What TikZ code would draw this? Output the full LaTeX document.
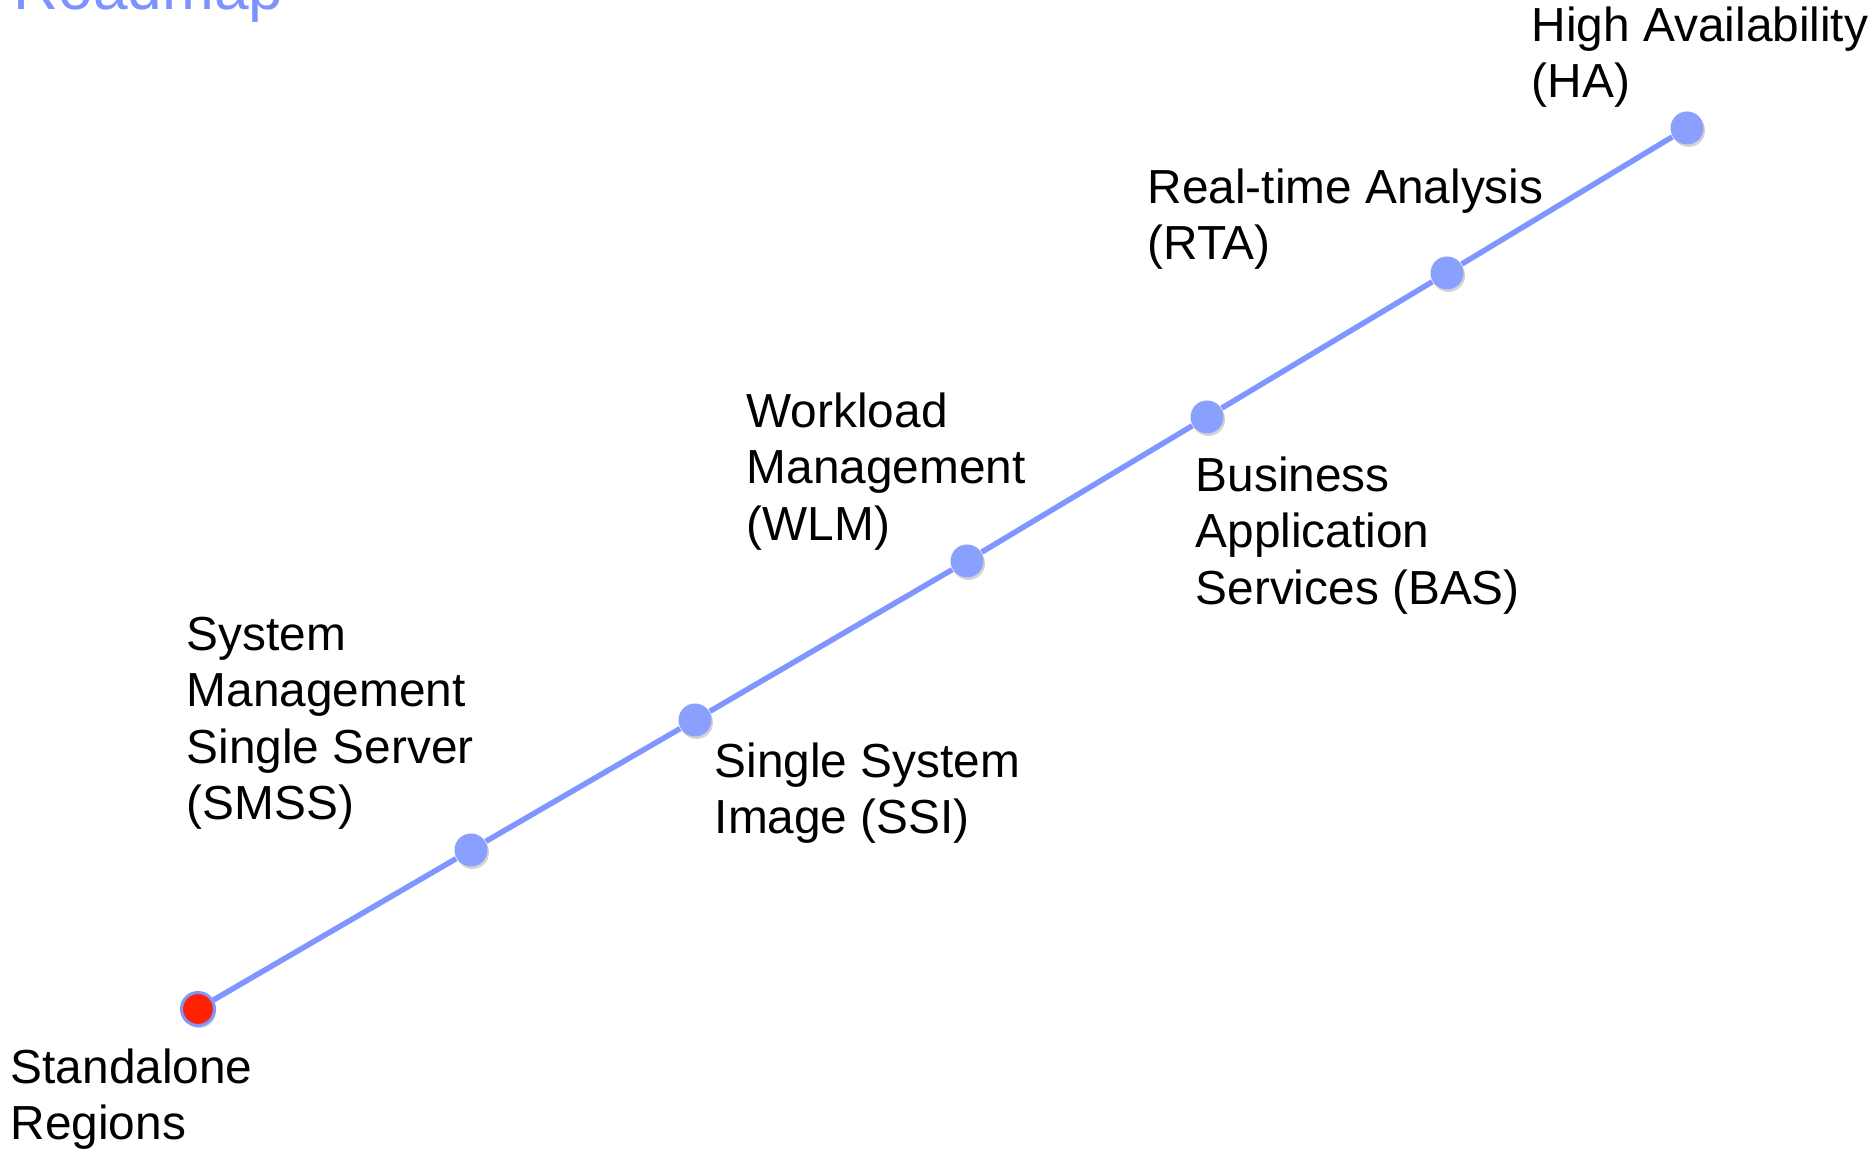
\documentclass[tikz,border=0pt]{standalone}
\usepackage{fontspec}
\setmainfont{Liberation Sans}
\usepackage{xcolor}
\usetikzlibrary{shadows}

\definecolor{roadblue}{RGB}{128,150,255}
\definecolor{dotblue}{RGB}{138,160,255}
\definecolor{titleblue}{RGB}{125,145,255}
\definecolor{startred}{RGB}{255,34,0}

\begin{document}
\begin{tikzpicture}[
  milestone/.style={circle, fill=dotblue, inner sep=0pt, minimum size=0.33cm,
    drop shadow={opacity=0.35, shadow xshift=0.015cm, shadow yshift=-0.025cm}},
  startpoint/.style={milestone, fill=startred, draw=roadblue, line width=0.03cm},
  roadline/.style={roadblue, line width=0.055cm},
  caption/.style={anchor=north west, inner sep=0pt, align=left,
    font=\fontsize{13.6pt}{16.1pt}\selectfont}
]
\useasboundingbox (0,0) rectangle (18.74,11.5);

\node[anchor=base west, inner sep=0pt, text=titleblue,
  font=\fontsize{17.7pt}{20pt}\selectfont] (title) at (0.13,11.40) {Roadmap};

\node[startpoint] (sr)   at (1.98,1.41) {};
\node[milestone]  (smss) at (4.71,3.00) {};
\node[milestone]  (ssi)  at (6.95,4.30) {};
\node[milestone]  (wlm)  at (9.67,5.89) {};
\node[milestone]  (bas)  at (12.07,7.33) {};
\node[milestone]  (rta)  at (14.47,8.77) {};
\node[milestone]  (ha)   at (16.87,10.22) {};

\draw[roadline] (sr) -- (smss) -- (ssi) -- (wlm) -- (bas) -- (rta) -- (ha);

\node[caption] (srtext)   at (0.10,1.02)  {Standalone\\Regions};
\node[caption] (smsstext) at (1.86,5.34)  {System\\Management\\Single Server\\(SMSS)};
\node[caption] (ssitext)  at (7.14,4.08)  {Single System\\Image (SSI)};
\node[caption] (wlmtext)  at (7.46,7.58)  {Workload\\Management\\(WLM)};
\node[caption] (bastext)  at (11.95,6.94) {Business\\Application\\Services (BAS)};
\node[caption] (rtatext)  at (11.47,9.82) {Real-time Analysis\\(RTA)};
\node[caption] (hatext)   at (15.31,11.44) {High Availability\\(HA)};

\end{tikzpicture}
\end{document}
